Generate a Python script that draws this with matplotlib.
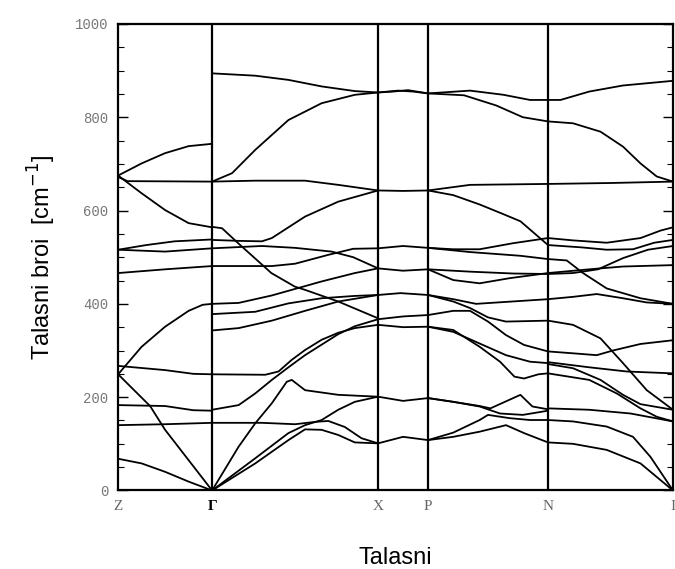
import matplotlib
matplotlib.use("Agg")
from matplotlib import pyplot as plt

# k-path nodes (distance along path) and labels
k_nodes = [0, 94, 260, 310, 430, 555]
k_labels = ["Z", "Γ", "X", "P", "N", "I"]

# each branch: list of (fraction along segment, frequency cm-1)
zg_branches = [
    [(0, 675), (0.25, 701), (0.5, 723), (0.75, 738), (1, 743)],
    [(0, 672), (0.1, 663), (1, 662)],
    [(0, 675), (0.25, 637), (0.5, 601), (0.75, 573), (1, 564)],
    [(0, 516), (0.3, 526), (0.6, 534), (1, 538)],
    [(0, 516), (0.5, 512), (1, 519)],
    [(0, 466), (0.5, 474), (1, 481)],
    [(0, 249), (0.25, 308), (0.5, 351), (0.75, 385), (0.9, 398), (1, 400)],
    [(0, 267), (0.5, 258), (0.8, 250), (1, 249)],
    [(0, 249), (0.34, 181), (0.5, 130), (0.75, 65), (1, 0)],
    [(0, 183), (0.5, 181), (0.8, 172), (1, 171)],
    [(0, 140), (0.5, 142), (1, 145)],
    [(0, 68), (0.25, 58), (0.5, 40), (0.75, 19), (1, 0)],
]

gx_branches = [
    [(0, 894), (0.26, 889), (0.46, 880), (0.66, 866), (0.86, 856), (1, 853)],
    [(0, 662), (0.12, 680), (0.26, 730), (0.46, 794), (0.66, 830), (0.86, 848), (1, 853)],
    [(0, 662), (0.26, 664), (0.56, 664), (0.76, 655), (1, 643)],
    [(0, 565), (0.06, 562), (0.157, 530), (0.357, 466), (0.498, 437), (0.56, 430), (0.76, 405), (1, 369)],
    [(0, 537), (0.16, 535), (0.3, 534), (0.36, 541), (0.56, 587), (0.76, 619), (1, 643)],
    [(0, 519), (0.3, 524), (0.5, 520), (0.72, 512), (0.85, 500), (1, 476)],
    [(0, 481), (0.36, 481), (0.5, 486), (0.7, 505), (0.85, 518), (1, 519)],
    [(0, 400), (0.16, 402), (0.36, 418), (0.5, 432), (0.66, 448), (0.86, 466), (1, 476)],
    [(0, 378), (0.26, 383), (0.46, 401), (0.66, 412), (0.86, 417), (1, 419)],
    [(0, 343), (0.16, 348), (0.36, 364), (0.56, 385), (0.76, 405), (1, 419)],
    [(0, 249), (0.32, 248), (0.4, 255), (0.48, 280), (0.56, 301), (0.66, 323), (0.76, 338), (0.86, 348), (1, 355)],
    [(0, 173), (0.16, 183), (0.26, 208), (0.36, 237), (0.46, 264), (0.56, 290), (0.76, 335), (0.86, 352), (1, 367)],
    [(0, 145), (0.3, 145), (0.5, 142), (0.62, 147), (0.7, 149), (0.8, 136), (0.9, 112), (1, 101)],
    [(0, 0), (0.16, 94), (0.26, 144), (0.36, 187), (0.45, 233), (0.48, 237), (0.56, 215), (0.76, 205), (1, 201)],
    [(0, 0), (0.26, 69), (0.46, 123), (0.56, 140), (0.66, 151), (0.76, 173), (0.86, 190), (1, 201)],
    [(0, 0), (0.26, 58), (0.46, 108), (0.56, 131), (0.66, 130), (0.76, 119), (0.86, 103), (1, 101)],
]

xp_branches = [
    [(0, 853), (0.3, 855), (0.6, 858), (1, 851)],
    [(0, 853), (0.4, 857), (0.7, 855), (1, 851)],
    [(0, 643), (0.5, 642), (1, 643)],
    [(0, 519), (0.5, 524), (1, 520)],
    [(0, 476), (0.5, 471), (1, 474)],
    [(0, 419), (0.45, 423), (1, 419)],
    [(0, 367), (0.5, 373), (1, 376)],
    [(0, 355), (0.5, 350), (1, 351)],
    [(0, 201), (0.5, 192), (1, 198)],
    [(0, 101), (0.5, 115), (1, 108)],
]

pn_branches = [
    [(0, 851), (0.35, 857), (0.63, 848), (0.85, 837), (1, 837)],
    [(0, 851), (0.3, 847), (0.57, 825), (0.79, 800), (1, 791)],
    [(0, 643), (0.35, 655), (1, 657)],
    [(0, 643), (0.21, 633), (0.43, 613), (0.63, 592), (0.77, 577), (1, 526)],
    [(0, 520), (0.21, 517), (0.43, 517), (0.71, 530), (1, 541)],
    [(0, 520), (0.35, 511), (0.77, 503), (1, 496)],
    [(0, 474), (0.21, 451), (0.43, 444), (0.68, 455), (1, 466)],
    [(0, 474), (0.35, 469), (0.71, 465), (1, 464)],
    [(0, 419), (0.21, 410), (0.4, 400), (0.7, 405), (1, 410)],
    [(0, 419), (0.21, 405), (0.35, 391), (0.5, 371), (0.65, 362), (1, 364)],
    [(0, 376), (0.21, 385), (0.35, 385), (0.5, 362), (0.65, 333), (0.8, 312), (1, 298)],
    [(0, 351), (0.21, 340), (0.43, 315), (0.65, 290), (0.85, 276), (1, 273)],
    [(0, 351), (0.21, 344), (0.43, 308), (0.6, 276), (0.72, 244), (0.8, 240), (0.92, 249), (1, 251)],
    [(0, 198), (0.21, 190), (0.43, 181), (0.52, 176), (0.77, 205), (0.87, 180), (1, 174)],
    [(0, 198), (0.21, 190), (0.43, 180), (0.6, 165), (0.79, 162), (1, 171)],
    [(0, 108), (0.21, 124), (0.43, 151), (0.5, 162), (0.68, 155), (0.85, 151), (1, 151)],
    [(0, 108), (0.21, 115), (0.43, 126), (0.65, 140), (0.8, 123), (1, 103)],
]

ni_branches = [
    [(0, 837), (0.1, 837), (0.33, 855), (0.6, 868), (1, 878)],
    [(0, 791), (0.2, 787), (0.42, 769), (0.6, 737), (0.74, 701), (0.87, 673), (1, 662)],
    [(0, 657), (0.5, 659), (1, 662)],
    [(0, 541), (0.2, 536), (0.47, 531), (0.74, 541), (0.9, 557), (1, 564)],
    [(0, 526), (0.27, 521), (0.47, 516), (0.68, 517), (0.85, 531), (1, 537)],
    [(0, 496), (0.15, 493), (0.28, 466), (0.47, 433), (0.74, 412), (1, 400)],
    [(0, 464), (0.2, 466), (0.4, 474), (0.6, 498), (0.8, 516), (1, 524)],
    [(0, 466), (0.33, 474), (0.6, 480), (1, 483)],
    [(0, 410), (0.2, 415), (0.39, 421), (0.6, 412), (0.79, 403), (1, 400)],
    [(0, 364), (0.2, 355), (0.42, 326), (0.6, 273), (0.79, 215), (1, 173)],
    [(0, 298), (0.2, 294), (0.39, 290), (0.52, 300), (0.74, 314), (1, 322)],
    [(0, 275), (0.33, 264), (0.63, 255), (1, 251)],
    [(0, 271), (0.2, 262), (0.42, 237), (0.6, 205), (0.74, 185), (1, 173)],
    [(0, 251), (0.33, 237), (0.55, 208), (0.74, 176), (0.87, 158), (1, 148)],
    [(0, 176), (0.33, 173), (0.66, 165), (1, 148)],
    [(0, 151), (0.2, 148), (0.47, 137), (0.68, 115), (0.82, 72), (1, 0)],
    [(0, 103), (0.2, 100), (0.47, 87), (0.74, 58), (1, 0)],
]

segments = [zg_branches, gx_branches, xp_branches, pn_branches, ni_branches]

fig = plt.figure(figsize=(6.75, 5.69), dpi=100)
ax = fig.add_axes([0.175, 0.138, 0.822, 0.82])

for i, branches in enumerate(segments):
    k0, k1 = k_nodes[i], k_nodes[i + 1]
    for br in branches:
        xs = [k0 + f * (k1 - k0) for f, v in br]
        ys = [v for f, v in br]
        ax.plot(xs, ys, color="black", lw=1.3, solid_joinstyle="round")

for k in k_nodes[1:-1]:
    ax.axvline(k, color="black", lw=1.6)

ax.set_xlim(k_nodes[0], k_nodes[-1])
ax.set_ylim(0, 1000)
ax.set_yticks(range(0, 1001, 200))
ax.set_yticks(range(0, 1001, 50), minor=True)
ax.tick_params(axis="y", which="both", direction="in", right=True, labelcolor="#777777",
               labelsize=10, pad=7)
ax.tick_params(axis="y", which="major", length=7, width=1)
ax.tick_params(axis="y", which="minor", length=4, width=0.8)
for lab in ax.get_yticklabels():
    lab.set_family("Liberation Mono")
ax.set_xticks(k_nodes)
ax.set_xticklabels(k_labels, family="Liberation Serif", color="#666666", fontsize=11)
ax.tick_params(axis="x", length=0, pad=7)
ax.get_xticklabels()[1].set_color("black")
ax.get_xticklabels()[1].set_fontweight("bold")
for s in ax.spines.values():
    s.set_linewidth(1.6)

ax.set_ylabel("Talasni broi  [cm$^{-1}$]", fontsize=17, family="Liberation Sans", labelpad=12)
ax.set_xlabel("Talasni", fontsize=17, family="Liberation Sans", labelpad=24)

fig.savefig("out.png", dpi=100)
